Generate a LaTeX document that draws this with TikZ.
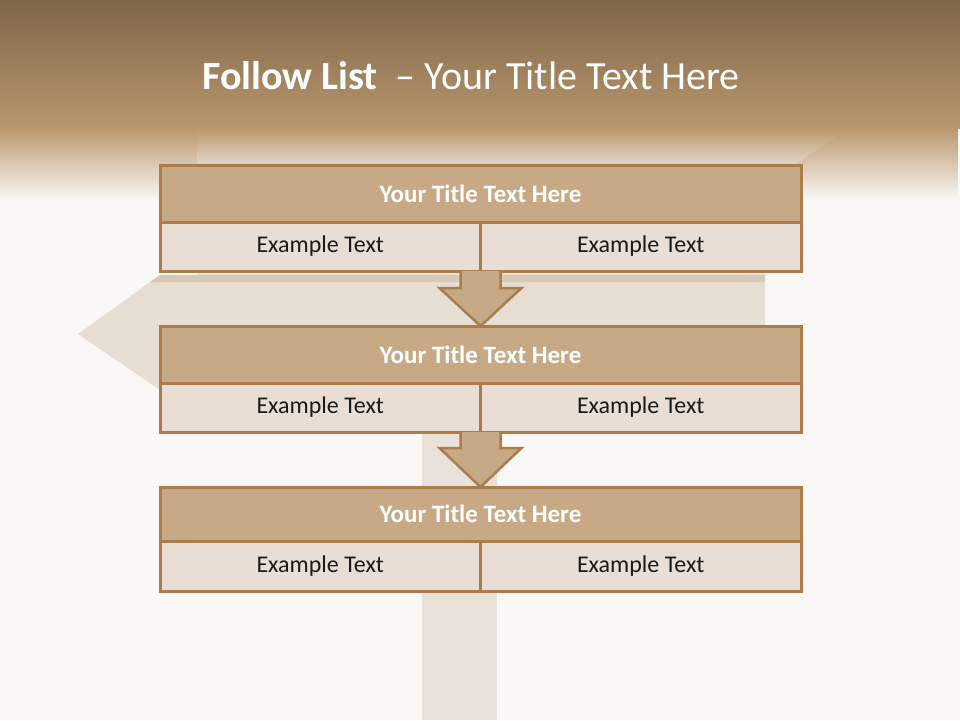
\documentclass[tikz,border=0pt]{standalone}
\usepackage{fontspec}
\setmainfont{Carlito}
\usetikzlibrary{calc,fadings}
\definecolor{bgw}{HTML}{FAF8F7}
\definecolor{hdrtop}{HTML}{7F6649}
\definecolor{hdrbot}{HTML}{B9976D}
\definecolor{boardc}{HTML}{E6DDD3}
\definecolor{postc}{HTML}{E9E1DA}
\definecolor{brd}{HTML}{A97D4E}
\definecolor{tfill}{HTML}{C8A985}
\definecolor{rfill}{HTML}{E8DED5}
\definecolor{txtc}{HTML}{1A1A1A}
\tikzfading[name=fadedown, top color=transparent!0, bottom color=transparent!100]
\tikzset{
  titlebox/.style={draw=brd, line width=3pt, fill=tfill, minimum width=641pt, minimum height=57pt, inner sep=0pt, outer sep=0pt, text=white, font=\fontsize{25}{30}\selectfont\bfseries},
  rowbox/.style={draw=brd, line width=3pt, fill=rfill, minimum width=320.5pt, minimum height=49pt, inner sep=0pt, outer sep=0pt, text=txtc, font=\fontsize{24}{29}\selectfont},
  downarrow/.style={draw=brd, line width=2.5pt, fill=tfill, line join=miter},
}
\begin{document}
\begin{tikzpicture}[x=1pt,y=-1pt]
\useasboundingbox (0,0) rectangle (960,720);
\fill[bgw] (0,0) rectangle (960,720);
% sign post and boards
\fill[postc] (422,380) rectangle (497,720);
\fill[boardc!85!white] (197,185) -- (765,185) -- (765,275) -- (197,275) -- cycle;
\fill[boardc] (160,275) -- (765,275) -- (765,390) -- (160,390) -- (78,334) -- cycle;
\fill[boardc!70!hdrbot] (160,275) -- (765,275) -- (765,282) -- (150,282) -- cycle;
% header
\shade[top color=hdrtop, bottom color=hdrbot] (0,0) rectangle (960,128);
\fill[hdrbot, path fading=fadedown] (0,127.5) rectangle (960,200);
\fill[white, opacity=0.35, path fading=north] (197,128) -- (850,128) -- (765,185) -- (197,185) -- cycle;
\node[text=white, font=\fontsize{40}{48}\selectfont] (title) at (471,76) {\textbf{Follow List}\ \ – Your Title Text Here};
% boxes
\node[titlebox] (t1) at (480.5,193.5) {Your Title Text Here};
\node[rowbox, anchor=north west] (r1a) at (t1.south west) {Example Text};
\node[rowbox, anchor=north east] (r1b) at (t1.south east) {Example Text};
\node[titlebox] (t2) at (480.5,354.5) {Your Title Text Here};
\node[rowbox, anchor=north west] (r2a) at (t2.south west) {Example Text};
\node[rowbox, anchor=north east] (r2b) at (t2.south east) {Example Text};
\node[titlebox, minimum height=54pt] (t3) at (480.5,514) {Your Title Text Here};
\node[rowbox, anchor=north west, minimum height=50pt] (r3a) at (t3.south west) {Example Text};
\node[rowbox, anchor=north east, minimum height=50pt] (r3b) at (t3.south east) {Example Text};
% arrows
\coordinate (a1) at ($(r1a.south east)!0.5!(r1b.south west)$);
\coordinate (b1) at (t2.north);
\draw[downarrow] ($(a1)+(-20,0)$) -- ($(a1)+(-20,17)$) -- ($(a1)+(-41,17)$) -- (b1) -- ($(a1)+(41,17)$) -- ($(a1)+(20,17)$) -- ($(a1)+(20,0)$);
\coordinate (a2) at ($(r2a.south east)!0.5!(r2b.south west)$);
\coordinate (b2) at (t3.north);
\draw[downarrow] ($(a2)+(-20,0)$) -- ($(a2)+(-20,16)$) -- ($(a2)+(-41,16)$) -- (b2) -- ($(a2)+(41,16)$) -- ($(a2)+(20,16)$) -- ($(a2)+(20,0)$);
\end{tikzpicture}
\end{document}
